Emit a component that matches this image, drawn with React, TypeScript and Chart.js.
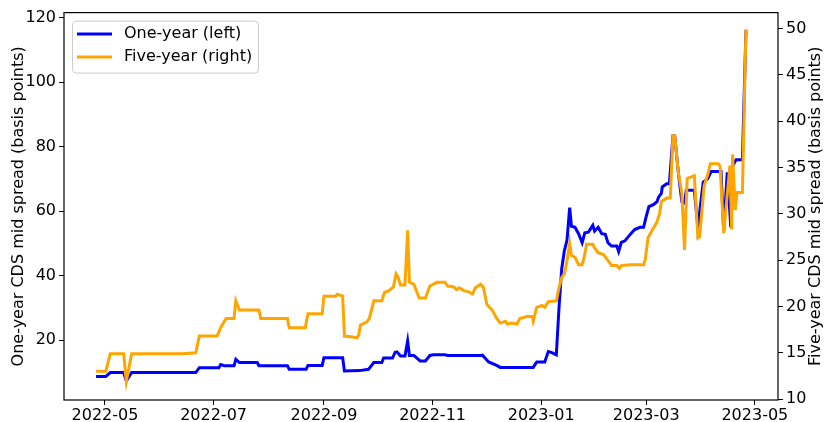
import React, { useEffect, useRef } from "react";
import { Chart, registerables } from "chart.js";

Chart.register(...registerables);

// x values: days since 2022-05-01
const ONE_YEAR_DAYS = [-5, 0.5, 3, 10.5, 12, 15, 51, 53, 64, 65, 67, 72.5, 73.5, 75.5, 85.5, 86.5, 102.5, 103.5, 113, 114, 122, 123, 133.5, 134.5, 143, 148, 151, 155.5, 156.5, 161.5, 163, 164, 166, 168.5, 170, 171, 173.5, 177, 180, 182.5, 184.5, 191, 192.5, 211, 212, 215.5, 220, 222, 240.5, 242.5, 247, 249, 251, 253.5, 255, 256.5, 258, 259.5, 261, 262, 264, 266, 268, 269.5, 271.5, 274, 275, 277, 279, 281, 282.5, 284.5, 287.5, 288.5, 290, 292, 295, 297.5, 300.5, 302.5, 304, 305.5, 308, 310, 311, 312.5, 313, 315.5, 317, 319, 320, 322, 324, 325.5, 326.5, 331, 333, 336, 338.5, 340.5, 346, 347.5, 349.5, 351.5, 352.5, 354.5, 358, 360];
const ONE_YEAR_VALUES = [8.8, 8.8, 10.0, 10.0, 7.4, 10.0, 10.0, 11.5, 11.5, 12.5, 12.1, 12.1, 14.1, 13.1, 13.1, 12.1, 12.1, 11.0, 11.0, 12.2, 12.2, 14.6, 14.6, 10.5, 10.6, 11.0, 13.1, 13.1, 14.5, 14.5, 16.3, 16.4, 15.1, 15.1, 19.8, 15.3, 15.3, 13.6, 13.6, 15.3, 15.5, 15.5, 15.3, 15.3, 15.4, 13.3, 12.2, 11.6, 11.6, 13.3, 13.3, 16.5, 16.2, 15.5, 30, 42, 47.7, 51, 61.1, 55.3, 55.0, 53.0, 50.2, 53.3, 53.5, 55.6, 53.8, 55.0, 53.0, 52.8, 50.2, 49.2, 49.2, 47.5, 50.3, 50.8, 52.8, 54.3, 55.0, 55.0, 58.4, 61.4, 62.0, 62.9, 64.4, 65.5, 67.5, 68.5, 68.5, 83.3, 83.3, 72, 62.9, 62.5, 66.5, 66.5, 55, 69.0, 70.0, 72.3, 72.3, 54, 72, 55, 74, 75.9, 75.9, 116];

const FIVE_YEAR_DAYS = [-5, 0.5, 3, 10.5, 12, 15, 43.5, 51, 53, 63, 65, 68, 72.5, 73.5, 75.5, 86.5, 87.5, 102.5, 103.5, 112.5, 114, 122, 123, 129.5, 130.5, 133.5, 134.5, 139, 141.5, 142.5, 143.5, 147, 148.5, 151, 155.5, 157, 159.5, 162, 163.5, 164.5, 166, 168.5, 170, 171, 173.5, 176.5, 180, 182.5, 186.5, 191, 192.5, 196, 197.5, 199, 201.5, 204, 206.5, 208, 211, 212.5, 214.5, 217.5, 220, 222, 225, 226, 228.5, 231.5, 233, 237, 240, 240.5, 242.5, 245.5, 247, 249, 253.5, 255, 256.5, 258, 259.5, 261, 262, 264, 266, 268, 269, 270.5, 274, 275, 277, 280, 283.5, 284.5, 287.5, 289, 290, 295, 302.5, 303.5, 305, 307, 310, 311.5, 312.5, 315.5, 317.5, 319, 320, 322, 324, 325.5, 327, 331, 333, 334, 336.5, 338.5, 340, 344.5, 345.5, 347.5, 351, 352, 352.5, 354, 355, 358, 360];
const FIVE_YEAR_VALUES = [13.0, 13.0, 14.9, 14.9, 11.9, 14.9, 14.9, 15.0, 16.8, 16.8, 17.7, 18.7, 18.7, 20.6, 19.6, 19.6, 18.7, 18.7, 17.7, 17.7, 19.2, 19.2, 21.1, 21.1, 21.3, 21.1, 16.8, 16.7, 16.6, 16.9, 18.0, 18.3, 18.7, 20.6, 20.6, 21.5, 21.7, 22.1, 23.5, 23.2, 22.3, 22.3, 28.2, 22.6, 22.4, 20.9, 20.9, 22.2, 22.6, 22.6, 22.2, 22.1, 21.8, 22.0, 21.7, 21.6, 21.35, 22.0, 22.4, 22.1, 20.2, 19.6, 18.7, 18.2, 18.4, 18.1, 18.2, 18.1, 18.7, 18.9, 18.9, 18.4, 19.9, 20.1, 19.9, 20.5, 20.6, 22.0, 23.1, 23.5, 24.9, 26.8, 25.5, 25.3, 24.5, 24.5, 25.2, 26.7, 26.7, 26.3, 25.8, 25.6, 24.7, 24.4, 24.4, 24.1, 24.4, 24.5, 24.5, 25.1, 27.4, 28.1, 29.1, 30.0, 31.3, 31.7, 31.7, 38.4, 38.4, 34.5, 32.2, 26.1, 33.8, 34.1, 27.4, 27.5, 33.0, 34.2, 35.4, 35.4, 35.1, 27.9, 35.2, 28.3, 36.4, 30.4, 32.3, 32.3, 49.9];

const X_TICK_DAYS = [0, 61, 123, 184, 245, 304, 365];
const X_TICK_LABELS = ["2022-05", "2022-07", "2022-09", "2022-11", "2023-01", "2023-03", "2023-05"];
const LEFT_TICKS = [20, 40, 60, 80, 100, 120];
const RIGHT_TICKS = [10, 15, 20, 25, 30, 35, 40, 45, 50];

const SERIES_LABELS = ["One-year (left)", "Five-year (right)"];
const LEFT_TITLE = "One-year CDS mid spread (basis points)";
const RIGHT_TITLE = "Five-year CDS mid spread (basis points)";

const FONT = "DejaVu Sans";
const FS = 16;

export default function App() {
  const ref = useRef<HTMLCanvasElement | null>(null);

  useEffect(() => {
    if (!ref.current) return;
    const oneYear = ONE_YEAR_DAYS.map((d, i) => ({ x: d, y: ONE_YEAR_VALUES[i] }));
    const fiveYear = FIVE_YEAR_DAYS.map((d, i) => ({ x: d, y: FIVE_YEAR_VALUES[i] }));

    const framePlugin = {
      id: "frameAndLegend",
      afterDraw(chart: any) {
        const { ctx, chartArea } = chart;
        const { left, top, right, bottom } = chartArea;
        ctx.save();
        ctx.strokeStyle = "#000";
        ctx.lineWidth = 1.2;
        ctx.strokeRect(left, top, right - left, bottom - top);

        // right axis title, reading bottom-to-top
        ctx.save();
        ctx.translate(816, (top + bottom) / 2);
        ctx.rotate(-Math.PI / 2);
        ctx.fillStyle = "#000";
        ctx.font = `${FS}px "${FONT}"`;
        ctx.textAlign = "center";
        ctx.textBaseline = "middle";
        ctx.fillText(RIGHT_TITLE, 0, 0);
        ctx.restore();

        // legend
        const bx = left + 8.5;
        const by = top + 8.5;
        const bw = 186;
        const bh = 52;
        const r = 4;
        ctx.beginPath();
        ctx.moveTo(bx + r, by);
        ctx.lineTo(bx + bw - r, by);
        ctx.arcTo(bx + bw, by, bx + bw, by + r, r);
        ctx.lineTo(bx + bw, by + bh - r);
        ctx.arcTo(bx + bw, by + bh, bx + bw - r, by + bh, r);
        ctx.lineTo(bx + r, by + bh);
        ctx.arcTo(bx, by + bh, bx, by + bh - r, r);
        ctx.lineTo(bx, by + r);
        ctx.arcTo(bx, by, bx + r, by, r);
        ctx.closePath();
        ctx.fillStyle = "rgba(255,255,255,0.8)";
        ctx.fill();
        ctx.strokeStyle = "#cccccc";
        ctx.lineWidth = 1;
        ctx.stroke();

        const ds = chart.data.datasets;
        const rows = [by + 13, by + 36];
        ds.forEach((d: any, i: number) => {
          const y = rows[i];
          ctx.strokeStyle = d.borderColor;
          ctx.lineWidth = 3;
          ctx.beginPath();
          ctx.moveTo(bx + 4.5, y);
          ctx.lineTo(bx + 39.5, y);
          ctx.stroke();
          ctx.fillStyle = "#000";
          ctx.font = `${FS}px "${FONT}"`;
          ctx.textBaseline = "middle";
          ctx.textAlign = "left";
          ctx.fillText(d.label, bx + 51.5, y);
        });
        ctx.restore();
      },
    };

    const tickFont = { family: FONT, size: FS };
    const chart = new Chart(ref.current, {
      type: "line",
      data: {
        datasets: [
          {
            label: SERIES_LABELS[0],
            data: oneYear,
            borderColor: "#0000ff",
            backgroundColor: "#0000ff",
            borderWidth: 3,
            pointRadius: 0,
            tension: 0,
            yAxisID: "y",
            order: 2,
          },
          {
            label: SERIES_LABELS[1],
            data: fiveYear,
            borderColor: "#ffa500",
            backgroundColor: "#ffa500",
            borderWidth: 3,
            pointRadius: 0,
            tension: 0,
            yAxisID: "y1",
            order: 1,
          },
        ],
      },
      options: {
        responsive: false,
        animation: false,
        devicePixelRatio: 1,
        layout: { padding: { top: 8, left: 0, right: 0, bottom: 0 } },
        plugins: {
          legend: { display: false },
          tooltip: { enabled: false },
        },
        scales: {
          x: {
            type: "linear",
            position: "bottom",
            min: -23,
            max: 378,
            afterFit: (s: any) => {
              s.height = 22;
            },
            afterBuildTicks: (s: any) => {
              s.ticks = X_TICK_DAYS.map((v) => ({ value: v }));
            },
            ticks: {
              color: "#000",
              font: tickFont,
              padding: 1,
              maxRotation: 0,
              autoSkip: false,
              callback: (v: any) => {
                const i = X_TICK_DAYS.indexOf(Number(v));
                return i >= 0 ? X_TICK_LABELS[i] : "";
              },
            },
            grid: { drawOnChartArea: false, drawTicks: true, tickLength: 5, color: "#000" },
            border: { display: false },
          },
          y: {
            type: "linear",
            position: "left",
            min: 1.5,
            max: 121.5,
            afterFit: (s: any) => {
              s.width = 64;
            },
            afterBuildTicks: (s: any) => {
              s.ticks = LEFT_TICKS.map((v) => ({ value: v }));
            },
            ticks: { color: "#000", font: tickFont, padding: 3 },
            grid: { drawOnChartArea: false, drawTicks: true, tickLength: 5, color: "#000" },
            border: { display: false },
            title: {
              display: true,
              text: LEFT_TITLE,
              color: "#000",
              font: tickFont,
              padding: { top: 9, bottom: 0 },
            },
          },
          y1: {
            type: "linear",
            position: "right",
            min: 9.9,
            max: 51.7,
            afterFit: (s: any) => {
              s.width = 47;
            },
            afterBuildTicks: (s: any) => {
              s.ticks = RIGHT_TICKS.map((v) => ({ value: v }));
            },
            ticks: { color: "#000", font: tickFont, padding: 3 },
            grid: { drawOnChartArea: false, drawTicks: true, tickLength: 5, color: "#000" },
            border: { display: false },
            title: { display: false },
          },
        },
      },
      plugins: [framePlugin],
    } as any);
    return () => chart.destroy();
  }, []);

  return (
    <div style={{ position: "absolute", left: 0, top: 0, width: 825, height: 422, background: "#fff" }}>
      <canvas ref={ref} width={825} height={422} style={{ width: 825, height: 422 }} />
    </div>
  );
}
